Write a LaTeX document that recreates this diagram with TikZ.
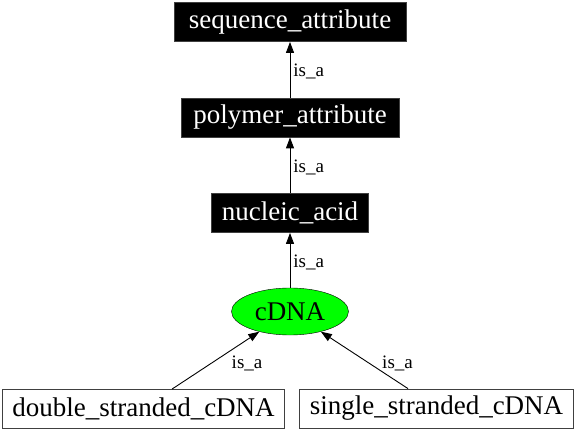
\documentclass[tikz,border=0pt]{standalone}
\usepackage{fontspec}
\setmainfont{Liberation Serif}
\usetikzlibrary{shapes.geometric,arrows.meta,positioning}

\begin{document}
\begin{tikzpicture}[x=1pt,y=-1pt,
    term/.style={draw=black!75, fill=black, text=white, font=\fontsize{27}{30}\selectfont, inner xsep=10pt, minimum height=39pt, line width=0.8pt},
    leaf/.style={draw=black!75, fill=white, font=\fontsize{27}{30}\selectfont, inner xsep=10pt, minimum height=39pt, line width=0.8pt},
    isa/.style={-{Triangle[length=11pt,width=8pt]}, line width=0.9pt},
    lbl/.style={font=\fontsize{19}{22}\selectfont, inner sep=0pt, anchor=west}]
    \useasboundingbox (0,0) rectangle (576,433);

    % attribute chain
    \node[term, minimum width=232pt] (seqattr) at (290,22) {sequence\_attribute};
    \node[term, minimum width=218pt] (polyattr) at (290,117.5) {polymer\_attribute};
    \node[term, minimum width=154pt] (nucacid) at (290,213) {nucleic\_acid};

    % cDNA and its children
    \node[ellipse, draw=black, fill=green, minimum width=117pt, minimum height=47pt, inner sep=0pt, font=\fontsize{27}{30}\selectfont] (cdna) at (290,311.5) {cDNA};
    \node[leaf, minimum width=279pt] (dscdna) at (143.5,409) {double\_stranded\_cDNA};
    \node[leaf, minimum width=269pt] (sscdna) at (436.5,408.5) {single\_stranded\_cDNA};

    \draw[isa] (polyattr) -- node[lbl, xshift=3pt, yshift=-2pt] (isa1) {is\_a} (seqattr);
    \draw[isa] (nucacid) -- node[lbl, xshift=3pt, yshift=-2pt] (isa2) {is\_a} (polyattr);
    \draw[isa] (cdna) -- node[lbl, xshift=3pt, yshift=-2pt] (isa3) {is\_a} (nucacid);
    \draw[isa] ([xshift=28.5pt]dscdna.north) -- node[lbl, pos=0.45, xshift=20pt] (isa4) {is\_a} (cdna);
    \draw[isa] ([xshift=-28.5pt]sscdna.north) -- node[lbl, pos=0.45, xshift=13pt] (isa5) {is\_a} (cdna);
\end{tikzpicture}
\end{document}
